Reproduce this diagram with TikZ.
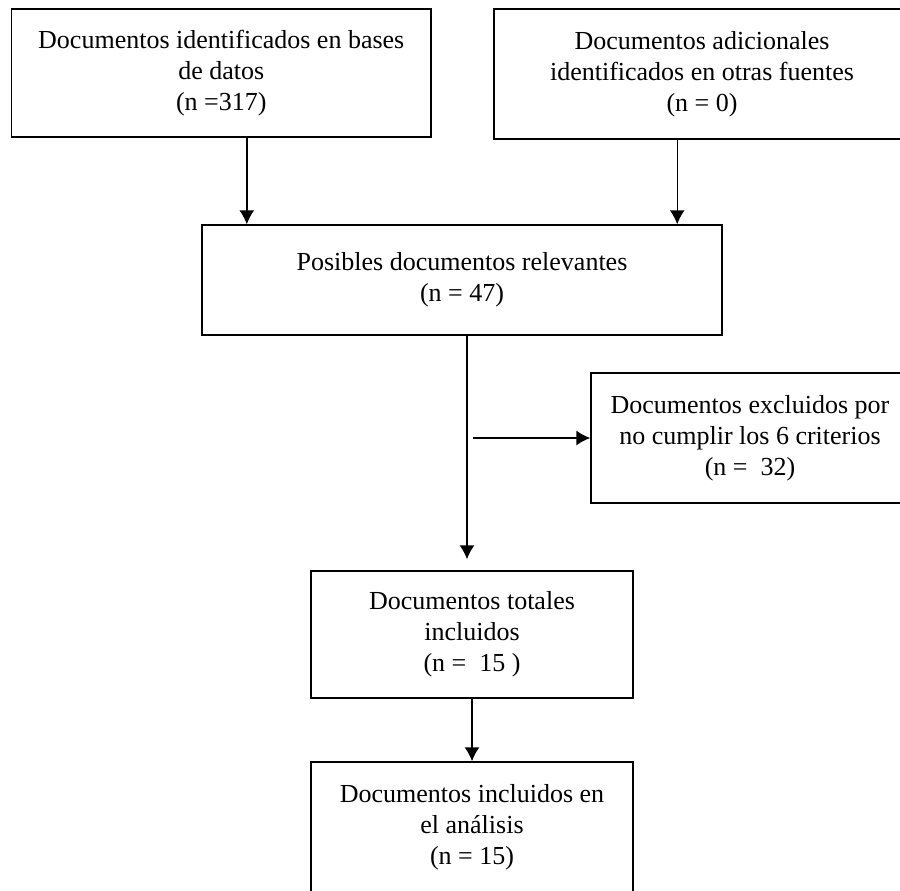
\documentclass[tikz,border=0pt]{standalone}
\usepackage{fontspec}
\setmainfont{Liberation Serif}
\usetikzlibrary{arrows.meta}
\begin{document}
\begin{tikzpicture}[>={Latex[length=7pt,width=7.5pt]},x=0.5pt,y=-0.5pt,
        caja/.style={draw,line width=0.7pt,align=center,inner sep=0pt,font=\fontsize{13}{15.5}\selectfont},
        flecha/.style={->,line width=0.7pt}]
                \useasboundingbox(0,0)rectangle(900,890);
                \node[caja,minimum width=209.75pt,minimum height=64pt] (ident) at (221.25,73) {Documentos identificados en bases\\de datos\\(n =317)};
                \node[caja,minimum width=208pt,minimum height=65pt] (adic) at (702,74) {Documentos adicionales\\identificados en otras fuentes\\(n = 0)};
                \node[caja,minimum width=260pt,minimum height=55pt] (posib) at (462,280) {Posibles documentos relevantes\\(n = 47)};
                \node[caja,minimum width=159pt,minimum height=65pt] (excl) at (750,438) {Documentos excluidos por\\no cumplir los 6 criterios\\(n = \ 32)};
                \node[caja,minimum width=161pt,minimum height=63.5pt] (total) at (472,634.5) {Documentos totales\\incluidos\\(n = \ 15 )};
                \node[caja,minimum width=161pt,minimum height=65.5pt] (anal) at (472,827.5) {Documentos incluidos en\\el análisis\\(n = 15)};
                \coordinate (entraI) at ([xshift=22.75pt]posib.north west);
                \coordinate (entraD) at ([xshift=-22.75pt]posib.north east);
                \coordinate (baja) at ([xshift=2.5pt]posib.south);
                \coordinate (rama) at ([xshift=-58.5pt]excl.west);
                \draw[flecha] (entraI |- ident.south) -- (entraI);
                \draw[flecha] (entraD |- adic.south) -- (entraD);
                \draw[flecha,shorten >=5.5pt] (baja) -- (baja |- total.north);
                \draw[flecha] (rama) -- (excl.west);
                \draw[flecha] (total.south) -- (anal.north);
            \end{tikzpicture}
\end{document}
